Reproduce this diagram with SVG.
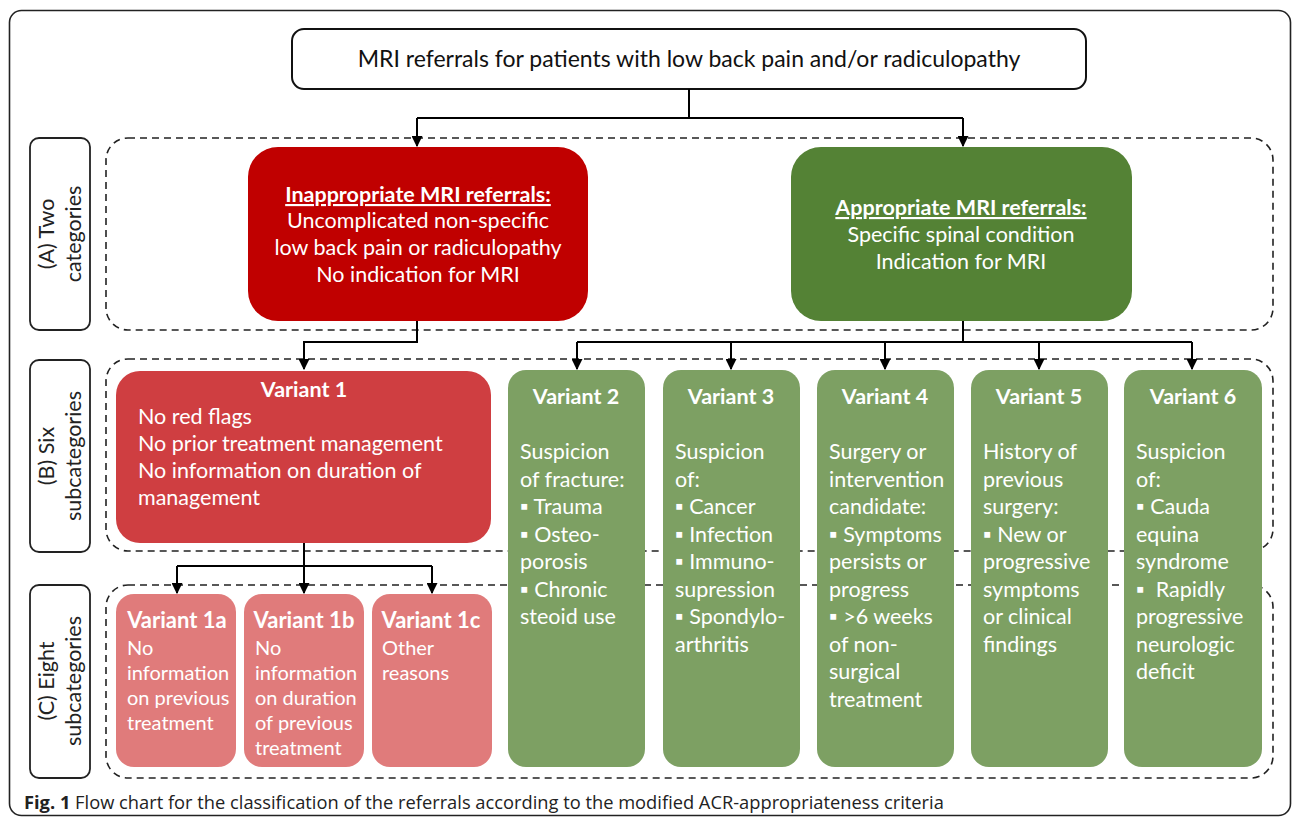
<svg xmlns="http://www.w3.org/2000/svg" width="1292" height="820" viewBox="0 0 1292 820">
<style>
text{font-family:Lato,"Open Sans","Liberation Sans",sans-serif;}
.w{fill:#fff;font-size:21.5px;}
.b{font-weight:bold;}
.dash{fill:none;stroke:#222;stroke-width:1.6;stroke-dasharray:7,5;}
.lab{fill:#fff;stroke:#222;stroke-width:1.8;}
.labt{font-size:21.5px;fill:#222;text-anchor:middle;}
.con{fill:none;stroke:#000;stroke-width:2;}
.g{fill:#7DA063;}
.p{fill:#E07B7B;}
.s{font-size:20px;}
.st{font-size:22px;}
.cap{font-family:"Open Sans",sans-serif;font-size:18.3px;fill:#222;}
</style>
<defs>
<marker id="ah" viewBox="0 0 10 10" refX="9" refY="5" markerWidth="5.5" markerHeight="5.5" orient="auto">
<path d="M0,0 L10,5 L0,10 z" fill="#000"/>
</marker>
</defs>
<rect width="1292" height="820" fill="#fff"/>
<rect x="9.5" y="10.5" width="1281" height="805" rx="12" fill="none" stroke="#222" stroke-width="1.6"/>

<g id="groupA">
<rect class="dash" x="106" y="138" width="1167" height="192" rx="22"/>
</g>
<g id="groupB">
<rect class="dash" x="106" y="359" width="1167" height="192" rx="22"/>
</g>
<g id="groupC">
<rect class="dash" x="106" y="585" width="1167" height="193" rx="22"/>
</g>

<g id="labelA">
<rect class="lab" x="30" y="138" width="60" height="192" rx="9"/>
<text class="labt" transform="translate(60,234) rotate(-90)"><tspan x="0" y="-6">(A) Two</tspan><tspan x="0" y="21">categories</tspan></text>
</g>
<g id="labelB">
<rect class="lab" x="30" y="360" width="60" height="192" rx="9"/>
<text class="labt" transform="translate(60,456) rotate(-90)"><tspan x="0" y="-6">(B) Six</tspan><tspan x="0" y="21">subcategories</tspan></text>
</g>
<g id="labelC">
<rect class="lab" x="30" y="585" width="60" height="193" rx="9"/>
<text class="labt" transform="translate(60,681) rotate(-90)"><tspan x="0" y="-6">(C) Eight</tspan><tspan x="0" y="21">subcategories</tspan></text>
</g>

<g id="top">
<rect x="292" y="29" width="794" height="60" rx="12" fill="#fff" stroke="#111" stroke-width="2"/>
<text x="689" y="67" font-size="23" fill="#111" text-anchor="middle">MRI referrals for patients with low back pain and/or radiculopathy</text>
</g>

<g id="connectors">
<path class="con" d="M689,89 V118 M417,118 H963"/>
<path class="con" d="M417,118 V146" marker-end="url(#ah)"/>
<path class="con" d="M963,118 V146" marker-end="url(#ah)"/>
<path class="con" d="M417,320 V342 H304 V369" marker-end="url(#ah)"/>
<path class="con" d="M963,320 V342 M577,342 H1192"/>
<path class="con" d="M577,342 V369" marker-end="url(#ah)"/>
<path class="con" d="M731,342 V369" marker-end="url(#ah)"/>
<path class="con" d="M885,342 V369" marker-end="url(#ah)"/>
<path class="con" d="M1039,342 V369" marker-end="url(#ah)"/>
<path class="con" d="M1192,342 V369" marker-end="url(#ah)"/>
<path class="con" d="M304,543 V566 M177,566 H432"/>
<path class="con" d="M177,566 V593" marker-end="url(#ah)"/>
<path class="con" d="M304,566 V593" marker-end="url(#ah)"/>
<path class="con" d="M432,566 V593" marker-end="url(#ah)"/>
</g>

<g id="inappropriate">
<rect x="248" y="147" width="340" height="174" rx="30" fill="#C00000"/>
<text class="w" text-anchor="middle"><tspan x="418" y="202" class="b" text-decoration="underline">Inappropriate MRI referrals:</tspan><tspan x="418" y="228">Uncomplicated non-specific</tspan><tspan x="418" y="255">low back pain or radiculopathy</tspan><tspan x="418" y="282">No indication for MRI</tspan></text>
</g>
<g id="appropriate">
<rect x="791" y="147" width="341" height="174" rx="30" fill="#548235"/>
<text class="w" text-anchor="middle"><tspan x="961" y="215" class="b" text-decoration="underline">Appropriate MRI referrals:</tspan><tspan x="961" y="242">Specific spinal condition</tspan><tspan x="961" y="269">Indication for MRI</tspan></text>
</g>

<g id="variant1">
<rect x="116" y="371" width="375" height="172" rx="24" fill="#CF3E41"/>
<text class="w"><tspan x="304" y="397" class="b" text-anchor="middle">Variant 1</tspan><tspan x="138" y="424">No red flags</tspan><tspan x="138" y="451">No prior treatment management</tspan><tspan x="138" y="478">No information on duration of</tspan><tspan x="138" y="505">management</tspan></text>
</g>

<g id="variant1a">
<rect class="p" x="116" y="594" width="120" height="173" rx="18"/>
<text class="w s"><tspan x="177" y="628" class="b st" text-anchor="middle">Variant 1a</tspan><tspan x="127" y="655">No</tspan><tspan x="127" y="680">information</tspan><tspan x="127" y="705">on previous</tspan><tspan x="127" y="730">treatment</tspan></text>
</g>
<g id="variant1b">
<rect class="p" x="244" y="594" width="120" height="173" rx="18"/>
<text class="w s"><tspan x="304" y="628" class="b st" text-anchor="middle">Variant 1b</tspan><tspan x="255" y="655">No</tspan><tspan x="255" y="680">information</tspan><tspan x="255" y="705">on duration</tspan><tspan x="255" y="730">of previous</tspan><tspan x="255" y="755">treatment</tspan></text>
</g>
<g id="variant1c">
<rect class="p" x="372" y="594" width="120" height="173" rx="18"/>
<text class="w s"><tspan x="431" y="628" class="b st" text-anchor="middle">Variant 1c</tspan><tspan x="382" y="655">Other</tspan><tspan x="382" y="680">reasons</tspan></text>
</g>

<g id="variant2">
<rect class="g" x="508" y="370" width="137" height="397" rx="18"/>
<text class="w"><tspan x="576" y="404" class="b" text-anchor="middle">Variant 2</tspan><tspan x="520" y="459">Suspicion</tspan><tspan x="520" y="487">of fracture:</tspan><tspan x="520" y="514">▪ Trauma</tspan><tspan x="520" y="542">▪ Osteo-</tspan><tspan x="520" y="569">porosis</tspan><tspan x="520" y="597">▪ Chronic</tspan><tspan x="520" y="624">steoid use</tspan></text>
</g>
<g id="variant3">
<rect class="g" x="663" y="370" width="137" height="397" rx="18"/>
<text class="w"><tspan x="731" y="404" class="b" text-anchor="middle">Variant 3</tspan><tspan x="675" y="459">Suspicion</tspan><tspan x="675" y="487">of:</tspan><tspan x="675" y="514">▪ Cancer</tspan><tspan x="675" y="542">▪ Infection</tspan><tspan x="675" y="569">▪ Immuno-</tspan><tspan x="675" y="597">supression</tspan><tspan x="675" y="624">▪ Spondylo-</tspan><tspan x="675" y="652">arthritis</tspan></text>
</g>
<g id="variant4">
<rect class="g" x="817" y="370" width="137" height="397" rx="18"/>
<text class="w"><tspan x="885" y="404" class="b" text-anchor="middle">Variant 4</tspan><tspan x="829" y="459">Surgery or</tspan><tspan x="829" y="487">intervention</tspan><tspan x="829" y="514">candidate:</tspan><tspan x="829" y="542">▪ Symptoms</tspan><tspan x="829" y="569">persists or</tspan><tspan x="829" y="597">progress</tspan><tspan x="829" y="624">▪ &gt;6 weeks</tspan><tspan x="829" y="652">of non-</tspan><tspan x="829" y="679">surgical</tspan><tspan x="829" y="707">treatment</tspan></text>
</g>
<g id="variant5">
<rect class="g" x="971" y="370" width="137" height="397" rx="18"/>
<text class="w"><tspan x="1039" y="404" class="b" text-anchor="middle">Variant 5</tspan><tspan x="983" y="459">History of</tspan><tspan x="983" y="487">previous</tspan><tspan x="983" y="514">surgery:</tspan><tspan x="983" y="542">▪ New or</tspan><tspan x="983" y="569">progressive</tspan><tspan x="983" y="597">symptoms</tspan><tspan x="983" y="624">or clinical</tspan><tspan x="983" y="652">findings</tspan></text>
</g>
<g id="variant6">
<rect class="g" x="1124" y="370" width="138" height="397" rx="18"/>
<text class="w"><tspan x="1193" y="404" class="b" text-anchor="middle">Variant 6</tspan><tspan x="1136" y="459">Suspicion</tspan><tspan x="1136" y="487">of:</tspan><tspan x="1136" y="514">▪ Cauda</tspan><tspan x="1136" y="542">equina</tspan><tspan x="1136" y="569">syndrome</tspan><tspan x="1136" y="597" xml:space="preserve">▪  Rapidly</tspan><tspan x="1136" y="624">progressive</tspan><tspan x="1136" y="652">neurologic</tspan><tspan x="1136" y="679">deficit</tspan></text>
</g>

<g id="caption">
<text class="cap" x="24" y="809"><tspan font-weight="bold">Fig. 1</tspan> Flow chart for the classification of the referrals according to the modified ACR-appropriateness criteria</text>
</g>
</svg>
